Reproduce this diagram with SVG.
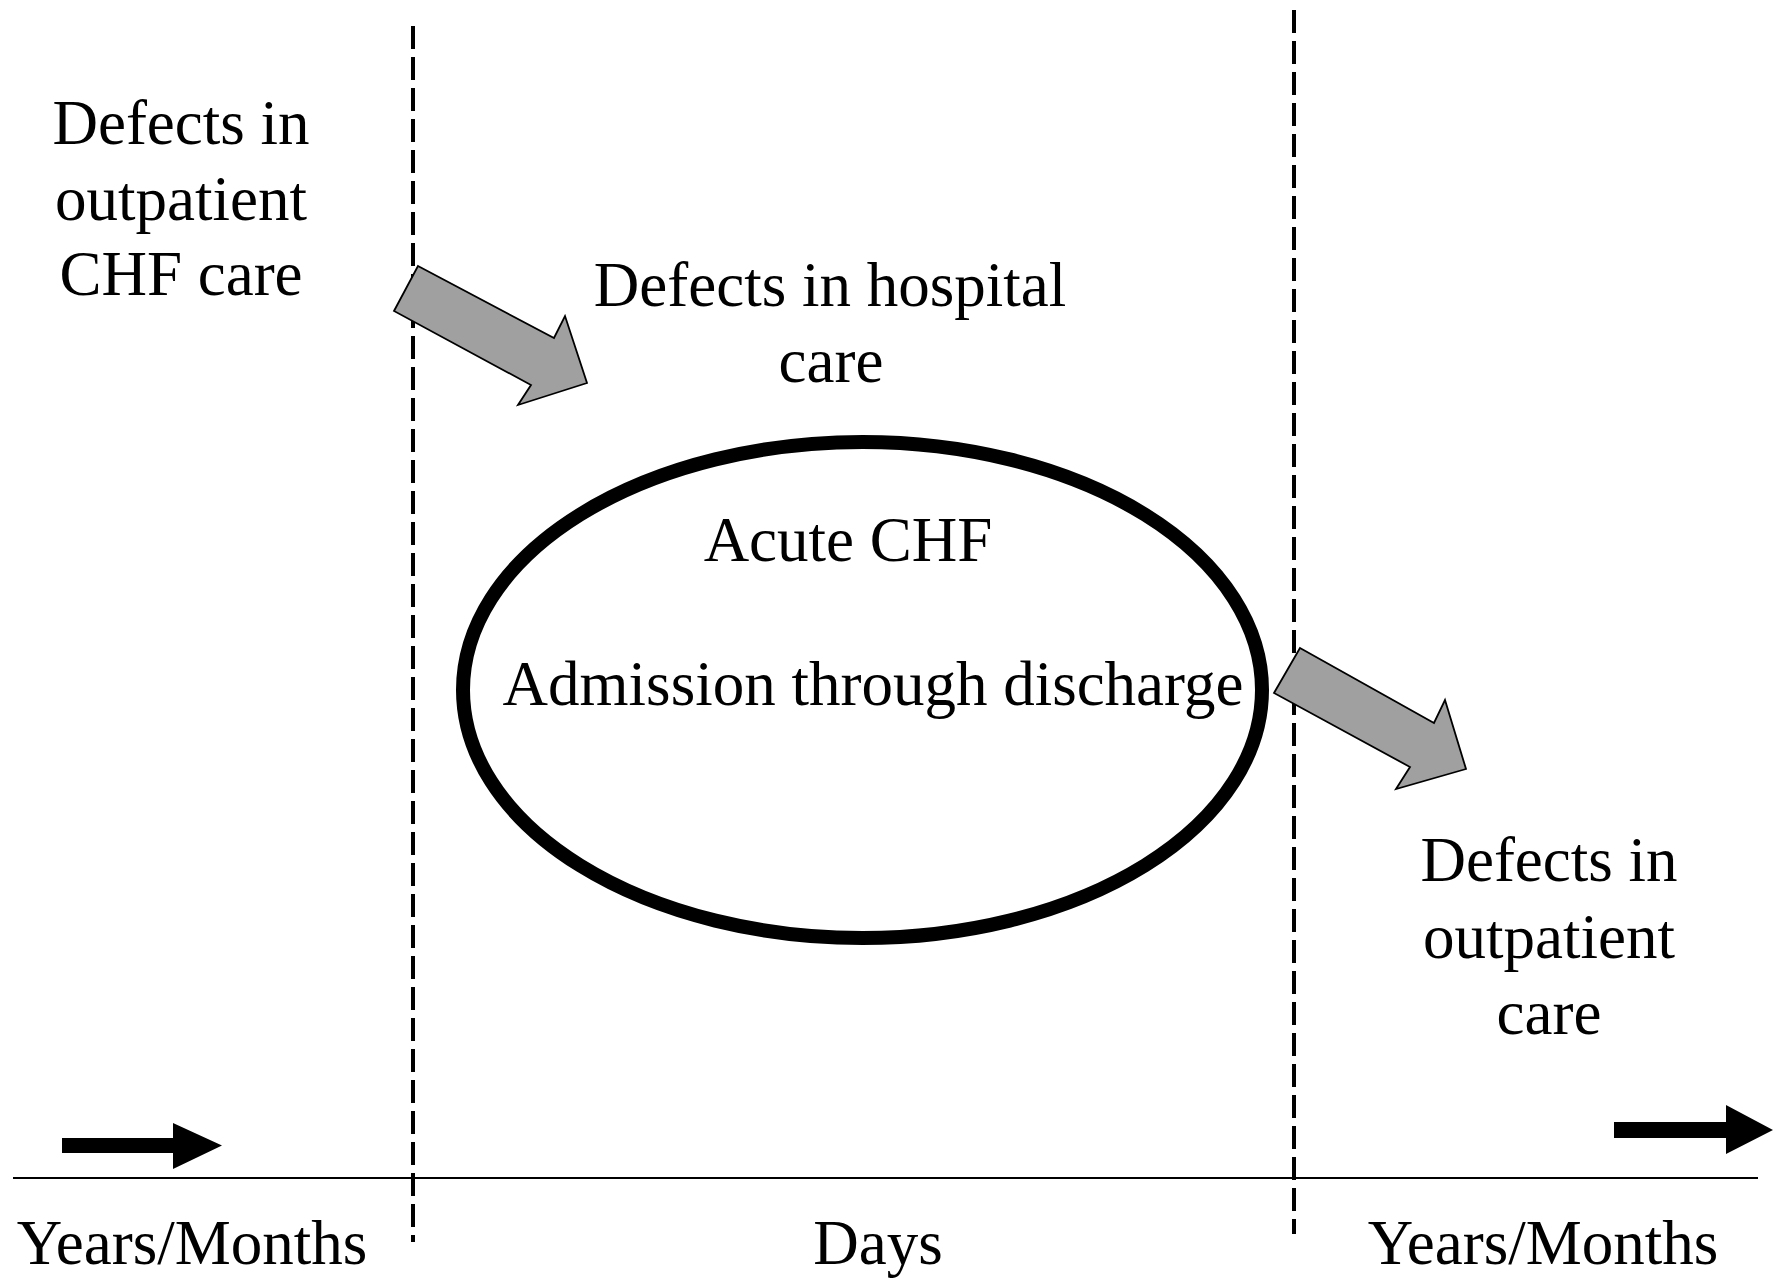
<svg xmlns="http://www.w3.org/2000/svg" width="1777" height="1278" viewBox="0 0 1777 1278">
<style>
text{font-family:"Liberation Serif","Times New Roman",serif;font-size:63px;fill:#000;text-anchor:middle}
.dash{stroke:#000;stroke-width:4;stroke-dasharray:23 8;fill:none}
.big{fill:#a0a0a0;stroke:#000;stroke-width:1.8;stroke-linejoin:miter}
.blk{fill:#000;stroke:none}
</style>
<rect width="1777" height="1278" fill="#fff"/>
<g id="axis">
<line x1="13" y1="1178" x2="1758" y2="1178" stroke="#000" stroke-width="2"/>
<line class="dash" x1="413" y1="26" x2="413" y2="1242"/>
<line class="dash" x1="1294" y1="10" x2="1294" y2="1234"/>
</g>
<g id="connectors">
<polygon class="big" points="418,266 554,338 565,316 587,383 518,405 531,385 394,311"/>
<polygon class="big" points="1300,648 1434,723 1445,700 1466,769 1396,789 1410,767 1274,693"/>
<polygon class="blk" points="62,1138 173,1138 173,1123 222,1145.5 173,1169 173,1153 62,1153"/>
<polygon class="blk" points="1614,1122 1726,1122 1726,1105 1773,1130 1726,1154 1726,1138 1614,1138"/>
</g>
<g id="outpatient-before">
<text x="181" y="144">Defects in</text>
<text x="181" y="220">outpatient</text>
<text x="181" y="295">CHF care</text>
</g>
<g id="hospital-care">
<text x="830" y="306">Defects in hospital</text>
<text x="831" y="382">care</text>
</g>
<g id="acute-chf">
<ellipse cx="862.5" cy="690" rx="399.5" ry="248" fill="none" stroke="#000" stroke-width="14"/>
<text x="848" y="561">Acute CHF</text>
<text x="873" y="705">Admission through discharge</text>
</g>
<g id="outpatient-after">
<text x="1549" y="881">Defects in</text>
<text x="1549" y="958">outpatient</text>
<text x="1549" y="1034">care</text>
</g>
<g id="time-labels">
<text x="192" y="1264">Years/Months</text>
<text x="878" y="1264">Days</text>
<text x="1543" y="1264">Years/Months</text>
</g>
</svg>
